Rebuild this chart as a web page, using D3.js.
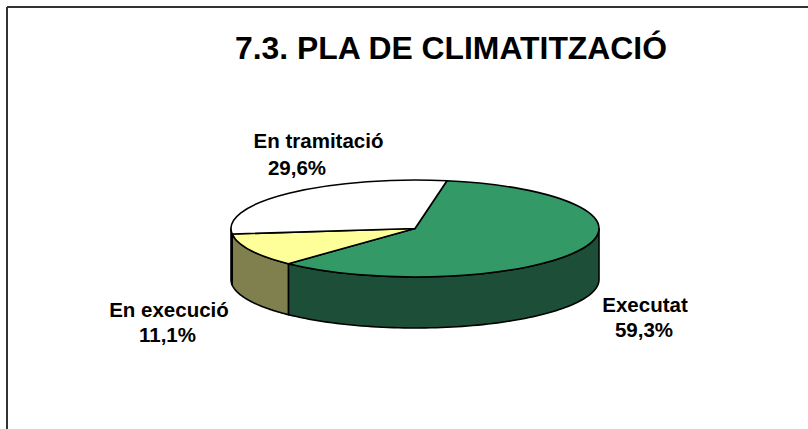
<!DOCTYPE html>
<html>
<head>
<meta charset="utf-8">
<script src="https://cdn.jsdelivr.net/npm/d3@7"></script>
<style>
html,body{margin:0;padding:0;background:#fff;}
svg{display:block;}
text{font-family:"Liberation Sans",Arial,sans-serif;font-weight:bold;fill:#000;}
</style>
</head>
<body>
<svg id="chart" width="808" height="429"></svg>
<script>
// ---- data ----
const title = "7.3. PLA DE CLIMATITZACIÓ";
const categories = ["Executat", "En execució", "En tramitació"];
const values = [59.3, 11.1, 29.6];
const valueLabels = ["59,3%", "11,1%", "29,6%"];

// ---- styles / layout ----
const topColors = ["#339966", "#FFFF99", "#FFFFFF"];
const sideColors = ["#1D4E37", "#80804F", "#808080"];
const labelLayout = [
  {x1: 645, y1: 312, x2: 644, y2: 337},
  {x1: 169, y1: 317, x2: 167.5, y2: 342},
  {x1: 318.5, y1: 148, x2: 297, y2: 175}
];
const cx = 415, cy = 228.5, rx = 184, ry = 48.5, depth = 51;
const startDeg = 10;

const svg = d3.select("#chart");

// frame
svg.append("line").attr("x1", 7).attr("y1", 7).attr("x2", 808).attr("y2", 7)
  .attr("stroke", "#333").attr("stroke-width", 2);
svg.append("line").attr("x1", 7).attr("y1", 7).attr("x2", 7).attr("y2", 429)
  .attr("stroke", "#333").attr("stroke-width", 2);

// title
svg.append("text").attr("x", 451).attr("y", 59).attr("text-anchor", "middle")
  .attr("textLength", 432).attr("lengthAdjust", "spacingAndGlyphs")
  .style("font-size", "31.5px").text(title);

const rad = d => d * Math.PI / 180;
const pie = d3.pie().sort(null).value(d => d)
  .startAngle(rad(startDeg)).endAngle(rad(startDeg + 360));
const arcsData = pie(values);

const px = d3.scaleLinear().domain([-1, 1]).range([cx - rx, cx + rx]);
const py = d3.scaleLinear().domain([-1, 1]).range([cy - ry, cy + ry]);
const pt = (a, dz) => [px(Math.sin(a)), py(-Math.cos(a)) + dz];
const line = d3.line();

// side walls (front half only)
const wallG = svg.append("g");
arcsData.forEach((d, i) => {
  const ranges = [[Math.PI / 2, 3 * Math.PI / 2], [Math.PI / 2 + 2 * Math.PI, 3 * Math.PI / 2 + 2 * Math.PI]];
  ranges.forEach(([lo, hi]) => {
    const a0 = Math.max(d.startAngle, lo), a1 = Math.min(d.endAngle, hi);
    if (a1 <= a0) return;
    const n = 80;
    const top = d3.range(n + 1).map(k => pt(a0 + (a1 - a0) * k / n, 0));
    const bot = d3.range(n + 1).map(k => pt(a1 - (a1 - a0) * k / n, depth));
    wallG.append("path")
      .attr("d", line(top.concat(bot)) + "Z")
      .attr("fill", sideColors[i])
      .attr("stroke", "#000").attr("stroke-width", 1.6)
      .attr("stroke-linejoin", "round");
  });
});

// top faces
const arcGen = d3.arc().innerRadius(0).outerRadius(rx);
const topG = svg.append("g")
  .attr("transform", `translate(${cx},${cy}) scale(1,${ry / rx})`);
topG.selectAll("path").data(arcsData).join("path")
  .attr("d", arcGen)
  .attr("fill", (d, i) => topColors[i])
  .attr("stroke", "#000").attr("stroke-width", 1.6)
  .attr("stroke-linejoin", "round")
  .attr("vector-effect", "non-scaling-stroke");

// labels
const lab = svg.append("g").style("font-size", "20.5px");
categories.forEach((c, i) => {
  const L = labelLayout[i];
  lab.append("text").attr("x", L.x1).attr("y", L.y1).attr("text-anchor", "middle").text(c);
  lab.append("text").attr("x", L.x2).attr("y", L.y2).attr("text-anchor", "middle").text(valueLabels[i]);
});
</script>
</body>
</html>
